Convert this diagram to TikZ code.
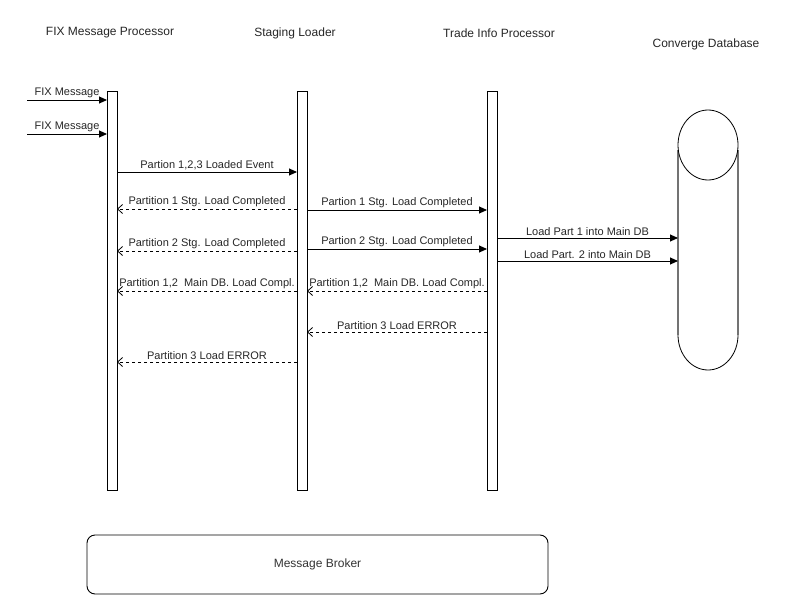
\documentclass[tikz,border=0pt]{standalone}
\usepackage{fontspec}
\setmainfont{Liberation Sans}
\usetikzlibrary{arrows.meta}
\begin{document}
\begin{tikzpicture}[x=1pt,y=-1pt,
  lifeline/.style={draw, line width=0.9pt, minimum width=10pt, minimum height=399pt, inner sep=0pt, outer sep=0pt},
  title/.style={font=\fontsize{12}{14}\selectfont, text=black!85, inner sep=0pt},
  msg/.style={line width=0.9pt, -{Triangle[length=8pt,width=7pt]}},
  ret/.style={line width=0.8pt, dash pattern=on 3pt off 3pt, -{Straight Barb[length=5pt,width=9pt,line width=0.8pt]}},
  lbl/.style={font=\fontsize{11}{13}\selectfont, text=black!85, above, inner sep=1.5pt},
]
\useasboundingbox (0,0) rectangle (797,615);

% titles
\node[title] (tfix) at (110,33) {FIX Message Processor};
\node[title] (tstg) at (295,33) {Staging Loader};
\node[title] (ttrd) at (499,33) {Trade Info Processor};
\node[title] (tdb)  at (706,44) {Converge Database};

% lifelines
\node[lifeline] (fix) at (112,290.5) {};
\node[lifeline] (stg) at (302,290.5) {};
\node[lifeline] (trd) at (492,290.5) {};

% database
\node[minimum width=60pt, minimum height=260pt, inner sep=0pt, outer sep=0pt] (db) at (708,240) {};
\draw[black!55, line width=1.2pt] (678,150) -- (678,335) (738,150) -- (738,335);
\draw[line width=0.8pt] (708,145) ellipse [x radius=30pt, y radius=35pt];
\draw[line width=0.8pt] (678,335) arc[start angle=180, end angle=360, x radius=30pt, y radius=35pt];

% message broker
\node[draw, line width=0.9pt, rounded corners=8pt, minimum width=461pt, minimum height=59pt,
      font=\fontsize{12}{14}\selectfont, text=black!80] (mb) at (317.5,564.5) {\raisebox{-1.5pt}{Message Broker}};

% y levels
\coordinate (in1) at (27,100);
\coordinate (in2) at (27,134);
\coordinate (y3) at (0,172);
\coordinate (y4) at (0,209);
\coordinate (y5) at (0,210);
\coordinate (y6) at (0,251);
\coordinate (y7) at (0,249);
\coordinate (y8) at (0,238);
\coordinate (y9) at (0,261);
\coordinate (y10) at (0,291);
\coordinate (y12) at (0,332);
\coordinate (y13) at (0,362);

% messages
\draw[msg] (in1) -- (fix.west |- in1) node[lbl, midway] {FIX Message};
\draw[msg] (in2) -- (fix.west |- in2) node[lbl, midway] {FIX Message};
\draw[msg] (fix.east |- y3) -- (stg.west |- y3) node[lbl, midway] {Partion 1,2,3 Loaded Event};
\draw[ret] (stg.west |- y4) -- (fix.east |- y4) node[lbl, midway] {Partition 1 Stg. Load Completed};
\draw[msg] (stg.east |- y5) -- (trd.west |- y5) node[lbl, midway] {Partion 1 Stg. Load Completed};
\draw[ret] (stg.west |- y6) -- (fix.east |- y6) node[lbl, midway] {Partition 2 Stg. Load Completed};
\draw[msg] (stg.east |- y7) -- (trd.west |- y7) node[lbl, midway] {Partion 2 Stg. Load Completed};
\draw[msg] (trd.east |- y8) -- (db.west |- y8) node[lbl, midway] {Load Part 1 into Main DB};
\draw[msg] (trd.east |- y9) -- (db.west |- y9) node[lbl, midway] {Load Part. 2 into Main DB};
\draw[ret] (stg.west |- y10) -- (fix.east |- y10) node[lbl, midway] {Partition 1,2~ Main DB. Load Compl.};
\draw[ret] (trd.west |- y10) -- (stg.east |- y10) node[lbl, midway] {Partition 1,2~ Main DB. Load Compl.};
\draw[ret] (trd.west |- y12) -- (stg.east |- y12) node[lbl, midway] {Partition 3 Load ERROR};
\draw[ret] (stg.west |- y13) -- (fix.east |- y13) node[lbl, midway] {Partition 3 Load ERROR};
\end{tikzpicture}
\end{document}
